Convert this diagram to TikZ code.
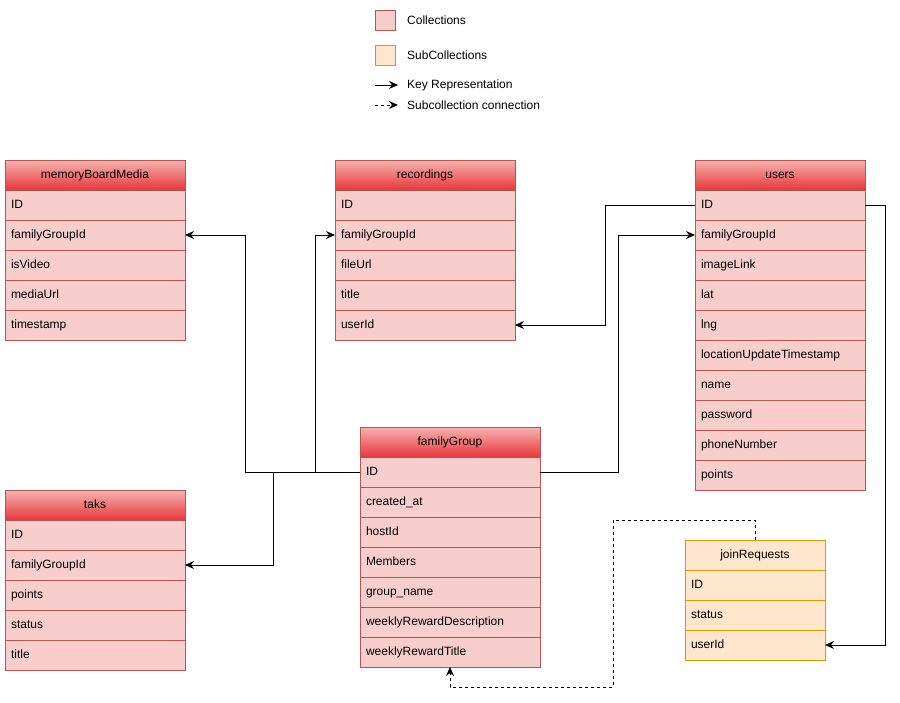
\documentclass[tikz,border=0pt]{standalone}
\usepackage{fontspec}
\setmainfont{Liberation Sans}
\usetikzlibrary{arrows.meta,calc}
\definecolor{collfill}{HTML}{F8CECC}
\definecolor{collline}{HTML}{B85450}
\definecolor{subfill}{HTML}{FFE6CC}
\definecolor{subline}{HTML}{D79B00}
\definecolor{hdrtop}{HTML}{F6B3B1}
\definecolor{hdrbot}{HTML}{E8373A}
\tikzset{
  every node/.style={font=\fontsize{12}{14}\selectfont, text=black},
  hdr/.style={draw=collline, line width=1pt, top color=hdrtop, bottom color=hdrbot, minimum height=30pt, inner sep=0pt, outer sep=0pt, text height=9.4pt, text depth=2pt},
  row/.style={draw=collline, fill=collfill, line width=1pt, minimum height=30pt, inner ysep=0pt, inner xsep=6pt, outer sep=0pt, align=left, text height=9.4pt, text depth=2pt},
  subhdr/.style={draw=subline, fill=subfill, line width=1pt, minimum height=30pt, inner sep=0pt, outer sep=0pt, text height=9.4pt, text depth=2pt},
  subrow/.style={draw=subline, fill=subfill, line width=1pt, minimum height=30pt, inner ysep=0pt, inner xsep=6pt, outer sep=0pt, align=left, text height=9.4pt, text depth=2pt},
  keyarrow/.style={draw=black, line width=1pt, -{Stealth[length=9pt,width=8pt,inset=3pt]}},
  subarrow/.style={keyarrow, dashed, dash pattern=on 3pt off 3pt},
  swatch/.style={minimum size=20pt, inner sep=0pt, line width=1pt},
  legtext/.style={anchor=west, inner sep=0pt}
}
\newcommand{\entity}[7]{%
  % #1 name, #2 center x, #3 top y, #4 width, #5 title, #6 rows, #7 kind (c/s)
  \ifx#7s
    \node[subhdr, minimum width=#4pt] (#1) at (#2,#3+15) {#5};
    \foreach \t [count=\i] in {#6} {
      \node[subrow, minimum width=#4pt, text width=#4pt-12pt] (#1-\i) at (#2,#3+15+30*\i) {\t};
    }
  \else
    \node[hdr, minimum width=#4pt] (#1) at (#2,#3+15) {#5};
    \foreach \t [count=\i] in {#6} {
      \node[row, minimum width=#4pt, text width=#4pt-12pt] (#1-\i) at (#2,#3+15+30*\i) {\t};
    }
  \fi
}
\begin{document}
\begin{tikzpicture}[x=1pt,y=-1pt]
\useasboundingbox (0,0) rectangle (900,702);

% legend
\node[swatch, draw=collline, fill=collfill] (lcoll) at (385,20) {};
\node[legtext] (lcollt) at (407,20) {Collections};
\node[swatch, draw=subline, fill=subfill] (lsub) at (385,55) {};
\node[legtext] (lsubt) at (407,55) {SubCollections};
\node[legtext] (lkey) at (407,85) {Key Representation};
\coordinate (lkeys) at (375,85);
\draw[keyarrow] (lkeys) -- ([xshift=-9pt]lkey.west);
\node[legtext] (lsc) at (407,105) {Subcollection connection};
\coordinate (lscs) at (375,105);
\draw[subarrow] (lscs) -- ([xshift=-9pt]lsc.west);

% entities
\entity{mbm}{95}{160}{180}{memoryBoardMedia}{ID,familyGroupId,isVideo,mediaUrl,timestamp}{c}
\entity{rec}{425}{160}{180}{recordings}{ID,familyGroupId,fileUrl,title,userId}{c}
\entity{us}{780}{160}{170}{users}{ID,familyGroupId,imageLink,lat,lng,locationUpdateTimestamp,name,password,phoneNumber,points}{c}
\entity{fg}{450}{427}{180}{familyGroup}{ID,created\_at,hostId,Members,group\_name,weeklyRewardDescription,weeklyRewardTitle}{c}
\entity{tk}{95}{490}{180}{taks}{ID,familyGroupId,points,status,title}{c}
\entity{jr}{755}{540}{140}{joinRequests}{ID,status,userId}{s}

% connectors
\draw[keyarrow] (fg-1.west) -- ++(-115,0) |- (mbm-2.east);
\draw[keyarrow] (fg-1.west) -- ++(-45,0) |- (rec-2.west);
\draw[keyarrow] (fg-1.west) -- ++(-87,0) |- (tk-2.east);
\draw[keyarrow] (fg-1.east) -- ++(78,0) |- (us-2.west);
\draw[keyarrow] (us-1.west) -- ++(-90,0) |- (rec-5.east);
\draw[keyarrow] (us-1.east) -- ++(20,0) |- (jr-3.east);
\draw[subarrow] (jr.north) -- ++(0,-20) -- ++(-142,0) -- ++(0,167) -| (fg-7.south);
\end{tikzpicture}
\end{document}
